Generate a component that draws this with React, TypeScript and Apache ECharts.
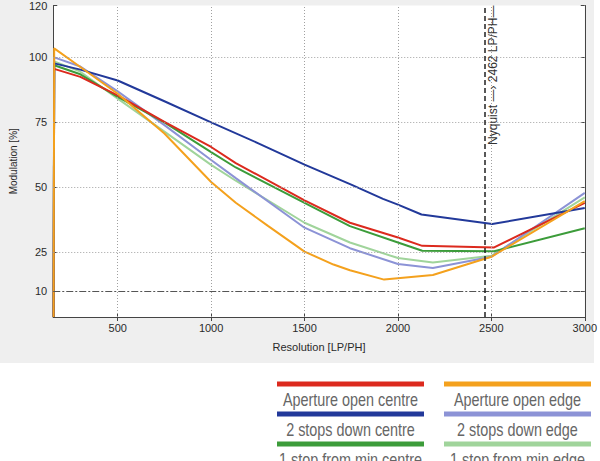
import React, { useEffect, useRef } from "react";
import * as echarts from "echarts";

const seriesNames = [
  "Aperture open centre",
  "Aperture open edge",
  "2 stops down centre",
  "2 stops down edge",
  "1 stop from min centre",
  "1 stop from min edge",
];
const seriesColors = ["#dc2a1e", "#f4a11d", "#22399a", "#8c93d6", "#3c9c3a", "#a0d49b"];

const apertureOpenCentre = [[157, 0], [160, 95.6], [300, 92.5], [500, 85.4], [750, 75.2], [1000, 65.5], [1132, 59.3], [1500, 44.9], [1743, 36.3], [2000, 30.6], [2130, 27.4], [2515, 26.8], [3000, 44]];
const apertureOpenEdge = [[157, 0], [160, 103.5], [300, 96.3], [500, 86], [750, 70.7], [1000, 52], [1132, 44], [1306, 35], [1500, 25.2], [1655, 20.2], [1743, 18], [1926, 14.4], [2187, 16.2], [2500, 23.2], [3000, 44.6]];
const stopsDownCentre = [[157, 0], [160, 97.7], [300, 95.3], [500, 91.1], [750, 83.1], [1000, 75], [1250, 67], [1500, 58.7], [1750, 51], [1920, 45.5], [2000, 43.3], [2126, 39.5], [2505, 35.8], [3000, 42]];
const stopsDownEdge = [[157, 0], [160, 100], [300, 96.5], [500, 86.9], [750, 73.9], [1000, 60.5], [1132, 53.5], [1500, 34.4], [1743, 26.5], [2000, 20.4], [2187, 18.9], [2500, 23.2], [3000, 47.8]];
const minCentre = [[157, 0], [160, 97], [300, 93.5], [500, 84.8], [750, 75], [1000, 63.5], [1132, 57.6], [1500, 44], [1743, 35], [2000, 28.7], [2130, 25.5], [2515, 25.3], [3000, 34.2]];
const minEdge = [[157, 0], [160, 98.5], [300, 94.5], [500, 84.1], [750, 71.4], [1000, 58.6], [1132, 52.5], [1500, 36.3], [1743, 28.7], [2000, 22.7], [2187, 21], [2500, 23.6], [3000, 46.1]];

const seriesData = [apertureOpenCentre, apertureOpenEdge, stopsDownCentre, stopsDownEdge, minCentre, minEdge];
const drawOrder = [5, 3, 4, 0, 2, 1];

const xMin = 155;
const xMax = 3000;
const yMin = 0;
const yMax = 120;
const xTickValues = [500, 1000, 1500, 2000, 2500, 3000];
const yTickValues = [10, 25, 50, 75, 100, 120];
const xGridValues = [500, 1000, 1500, 2000, 2500];
const yGridValues = [25, 50, 75, 100];
const thresholdValue = 10;
const nyquistValue = 2462;
const nyquistLabel = "Nyquist \u2014\u203A 2462 LP/PH\u2014";

export default function App() {
  const ref = useRef<HTMLDivElement>(null);
  useEffect(() => {
    document.body.style.margin = "0";
    const chart = echarts.init(ref.current!, null, { renderer: "svg" });
    const axisFont = { fontFamily: "Liberation Sans, Arial, sans-serif", fontSize: 11, color: "#2a2a2a" };
    const lineSeries = drawOrder.map((i) => ({
      type: "line",
      name: seriesNames[i],
      data: seriesData[i],
      showSymbol: false,
      symbol: "none",
      z: 3,
      lineStyle: { color: seriesColors[i], width: 2 },
      emphasis: { disabled: true },
    }));
    const gridSeries = {
      type: "line",
      data: [],
      z: 1,
      silent: true,
      markLine: {
        silent: true,
        symbol: "none",
        animation: false,
        label: { show: false },
        data: [
          ...xGridValues.map((v) => ({ xAxis: v, lineStyle: { color: "#a0a0a0", type: [1, 2], width: 1 } })),
          ...yGridValues.map((v) => ({ yAxis: v, lineStyle: { color: "#a0a0a0", type: [1, 2], width: 1 } })),
          { yAxis: thresholdValue, lineStyle: { color: "#555", type: [7, 2, 2, 2], width: 1 } },
        ],
      },
    };
    const nyquistSeries = {
      type: "line",
      data: [],
      z: 4,
      silent: true,
      markLine: {
        silent: true,
        symbol: "none",
        animation: false,
        data: [
          {
            xAxis: nyquistValue,
            lineStyle: { color: "#222", type: [5, 3], width: 1.5 },
            label: {
              show: true,
              position: "insideEndBottom",
              formatter: nyquistLabel,
              fontFamily: "Liberation Sans, Arial, sans-serif",
              fontSize: 12,
              color: "#333",
              distance: [0, 3],
            },
          },
        ],
      },
    };

    const legendLeftX = 277;
    const legendRightX = 444;
    const legendW = 147;
    const legendRowsY = [384, 414, 444];
    const legendItems: any[] = [];
    seriesNames.forEach((name, i) => {
      const col = i % 2;
      const row = Math.floor(i / 2);
      const x = col === 0 ? legendLeftX : legendRightX;
      const y = legendRowsY[row];
      legendItems.push({
        type: "rect",
        shape: { x, y: y - 2.5, width: legendW, height: 5 },
        style: { fill: seriesColors[i] },
      });
      legendItems.push({
        type: "text",
        x: x + legendW / 2,
        y: y + 15,
        scaleX: 0.8,
        style: {
          text: name,
          fill: "#666666",
          font: "18px 'Liberation Sans', Arial, sans-serif",
          align: "center",
          verticalAlign: "middle",
        },
      });
    });

    chart.setOption({
      animation: false,
      backgroundColor: "#ffffff",
      graphic: [
        { type: "rect", z: -10, shape: { x: 0, y: 0, width: 594, height: 363 }, style: { fill: "#efefef" } },
        ...legendItems,
      ],
      grid: { left: 43, top: 4, width: 544, height: 313, show: true, backgroundColor: "#ffffff", borderWidth: 0 },
      xAxis: [
        {
          type: "value",
          min: xMin,
          max: xMax,
          position: "bottom",
          name: "Resolution [LP/PH]",
          nameLocation: "middle",
          nameGap: 24,
          nameTextStyle: { ...axisFont, fontSize: 11 },
          axisLine: { show: true, lineStyle: { color: "#444", width: 1 } },
          axisTick: { show: true, inside: true, length: 4, customValues: xTickValues, lineStyle: { color: "#444" } },
          axisLabel: { show: true, customValues: xTickValues, margin: 5, formatter: (v: number) => String(v), ...axisFont },
          splitLine: { show: false },
        },
        {
          type: "value",
          min: xMin,
          max: xMax,
          position: "top",
          axisLine: { show: true, lineStyle: { color: "#444", width: 1 } },
          axisTick: { show: true, inside: true, length: 4, customValues: xTickValues, lineStyle: { color: "#444" } },
          axisLabel: { show: false },
          splitLine: { show: false },
        },
      ],
      yAxis: [
        {
          type: "value",
          min: yMin,
          max: yMax,
          position: "left",
          name: "Modulation [%]",
          nameLocation: "middle",
          nameGap: 33,
          nameRotate: 90,
          nameTextStyle: { ...axisFont, fontSize: 10 },
          axisLine: { show: true, lineStyle: { color: "#444", width: 1 } },
          axisTick: { show: true, inside: true, length: 4, customValues: yTickValues, lineStyle: { color: "#444" } },
          axisLabel: { show: true, customValues: yTickValues, margin: 6, formatter: (v: number) => String(v), ...axisFont },
          splitLine: { show: false },
        },
        {
          type: "value",
          min: yMin,
          max: yMax,
          position: "right",
          axisLine: { show: true, lineStyle: { color: "#444", width: 1 } },
          axisTick: { show: true, inside: true, length: 4, customValues: yTickValues, lineStyle: { color: "#444" } },
          axisLabel: { show: false },
          splitLine: { show: false },
        },
      ],
      series: [gridSeries, ...lineSeries, nyquistSeries],
    });
    return () => chart.dispose();
  }, []);
  return <div ref={ref} style={{ width: 600, height: 461 }} />;
}
